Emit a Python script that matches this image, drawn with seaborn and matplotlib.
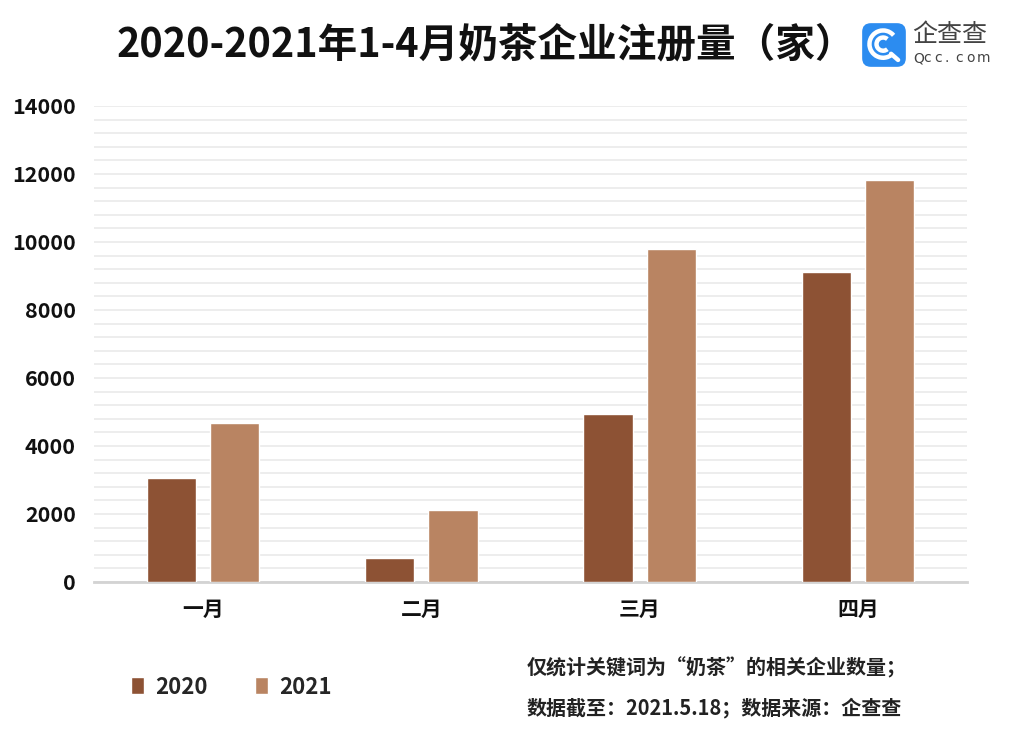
import matplotlib
matplotlib.use("Agg")
import numpy as np
import pandas as pd
import matplotlib.pyplot as plt
import seaborn as sns
from matplotlib.patches import FancyBboxPatch, Arc

# data
months = ["一月", "二月", "三月", "四月"]
years = ["2020", "2021"]
count_2020 = [3050, 700, 4930, 9110]
count_2021 = [4680, 2110, 9790, 11830]

colors = {"2020": "#8D5234", "2021": "#B98462"}

df = pd.DataFrame({
    "month": months * 2,
    "year": ["2020"] * 4 + ["2021"] * 4,
    "count": count_2020 + count_2021,
})

sns.set_theme(style="white")
plt.rcParams["font.family"] = ["Noto Sans CJK SC", "DejaVu Sans"]

W, H = 1017, 737
fig = plt.figure(figsize=(W / 100, H / 100), dpi=100)
ax = fig.add_axes([94 / W, 1 - 582 / H, (967 - 94) / W, (582 - 106) / H])

sns.barplot(data=df, x="month", y="count", hue="year", order=months,
            hue_order=years, palette=colors, width=0.58, gap=0.224,
            saturation=1, ax=ax, zorder=3)

ax.set_xlim(-0.5, 3.5)
ax.set_ylim(0, 14000)
ax.set_yticks(np.arange(0, 14001, 2000))
ax.set_yticks(np.arange(0, 14001, 400), minor=True)
ax.grid(axis="y", which="both", color="#EDEDED", linewidth=1.4, zorder=0)
ax.set_axisbelow(True)
for s in ["top", "right", "left"]:
    ax.spines[s].set_visible(False)
ax.spines["bottom"].set_color("#D3D3D3")
ax.spines["bottom"].set_linewidth(2)
ax.set_xlabel("")
ax.set_ylabel("")
ax.tick_params(axis="both", which="both", length=0)
ax.tick_params(axis="y", pad=13)
ax.tick_params(axis="x", pad=12)
for t in ax.get_yticklabels():
    t.set_fontsize(15.5)
    t.set_fontweight("bold")
    t.set_color("#111111")
for t in ax.get_xticklabels():
    t.set_fontsize(15)
    t.set_fontweight("bold")
    t.set_color("#111111")

# legend at the bottom left
handles, labels = ax.get_legend_handles_labels()
ax.legend(handles, labels, loc="center left", bbox_to_anchor=(111 / W, 1 - 687 / H),
          bbox_transform=fig.transFigure, ncol=2, frameon=False,
          prop={"size": 16, "weight": "bold"},
          handlelength=0.6, handleheight=0.8, handletextpad=0.5, columnspacing=2.1)

# title
fig.text(486 / W, 1 - 45 / H, "2020-2021年1-4月奶茶企业注册量（家）", ha="center",
         va="center", fontsize=28.5, fontweight="bold", color="#111111")

# footnote
fig.text(527 / W, 1 - 668 / H, "仅统计关键词为“奶茶”的相关企业数量；", ha="left",
         va="center", fontsize=14.4, fontweight="bold", color="#222222")
fig.text(527 / W, 1 - 708 / H, "数据截至：2021.5.18；数据来源：企查查", ha="left",
         va="center", fontsize=14.4, fontweight="bold", color="#222222")

# logo
lax = fig.add_axes([862 / W, 1 - 67 / H, 44 / W, 44 / H])
lax.set_xlim(0, 1)
lax.set_ylim(0, 1)
lax.axis("off")
lax.add_patch(FancyBboxPatch((0.02, 0.02), 0.96, 0.96,
                             boxstyle="round,pad=0,rounding_size=0.18",
                             color="#2C8CF0"))
lax.add_patch(Arc((0.48, 0.52), 0.62, 0.62, theta1=40, theta2=315,
                  color="white", lw=3.2))
lax.add_patch(Arc((0.48, 0.52), 0.3, 0.3, theta1=50, theta2=310,
                  color="white", lw=3.2))
lax.plot([0.66, 0.82], [0.3, 0.16], color="white", lw=3.2, solid_capstyle="round")

fig.text(912 / W, 1 - 35 / H, "企查查", ha="left", va="center", fontsize=18,
         color="#444444")
for i, ch in enumerate("Qcc.com"):
    fig.text((913 + i * 10.6) / W, 1 - 58 / H, ch, ha="left", va="center",
             fontsize=10, color="#444444", family="DejaVu Sans")

fig.savefig("out.png", dpi=100)
